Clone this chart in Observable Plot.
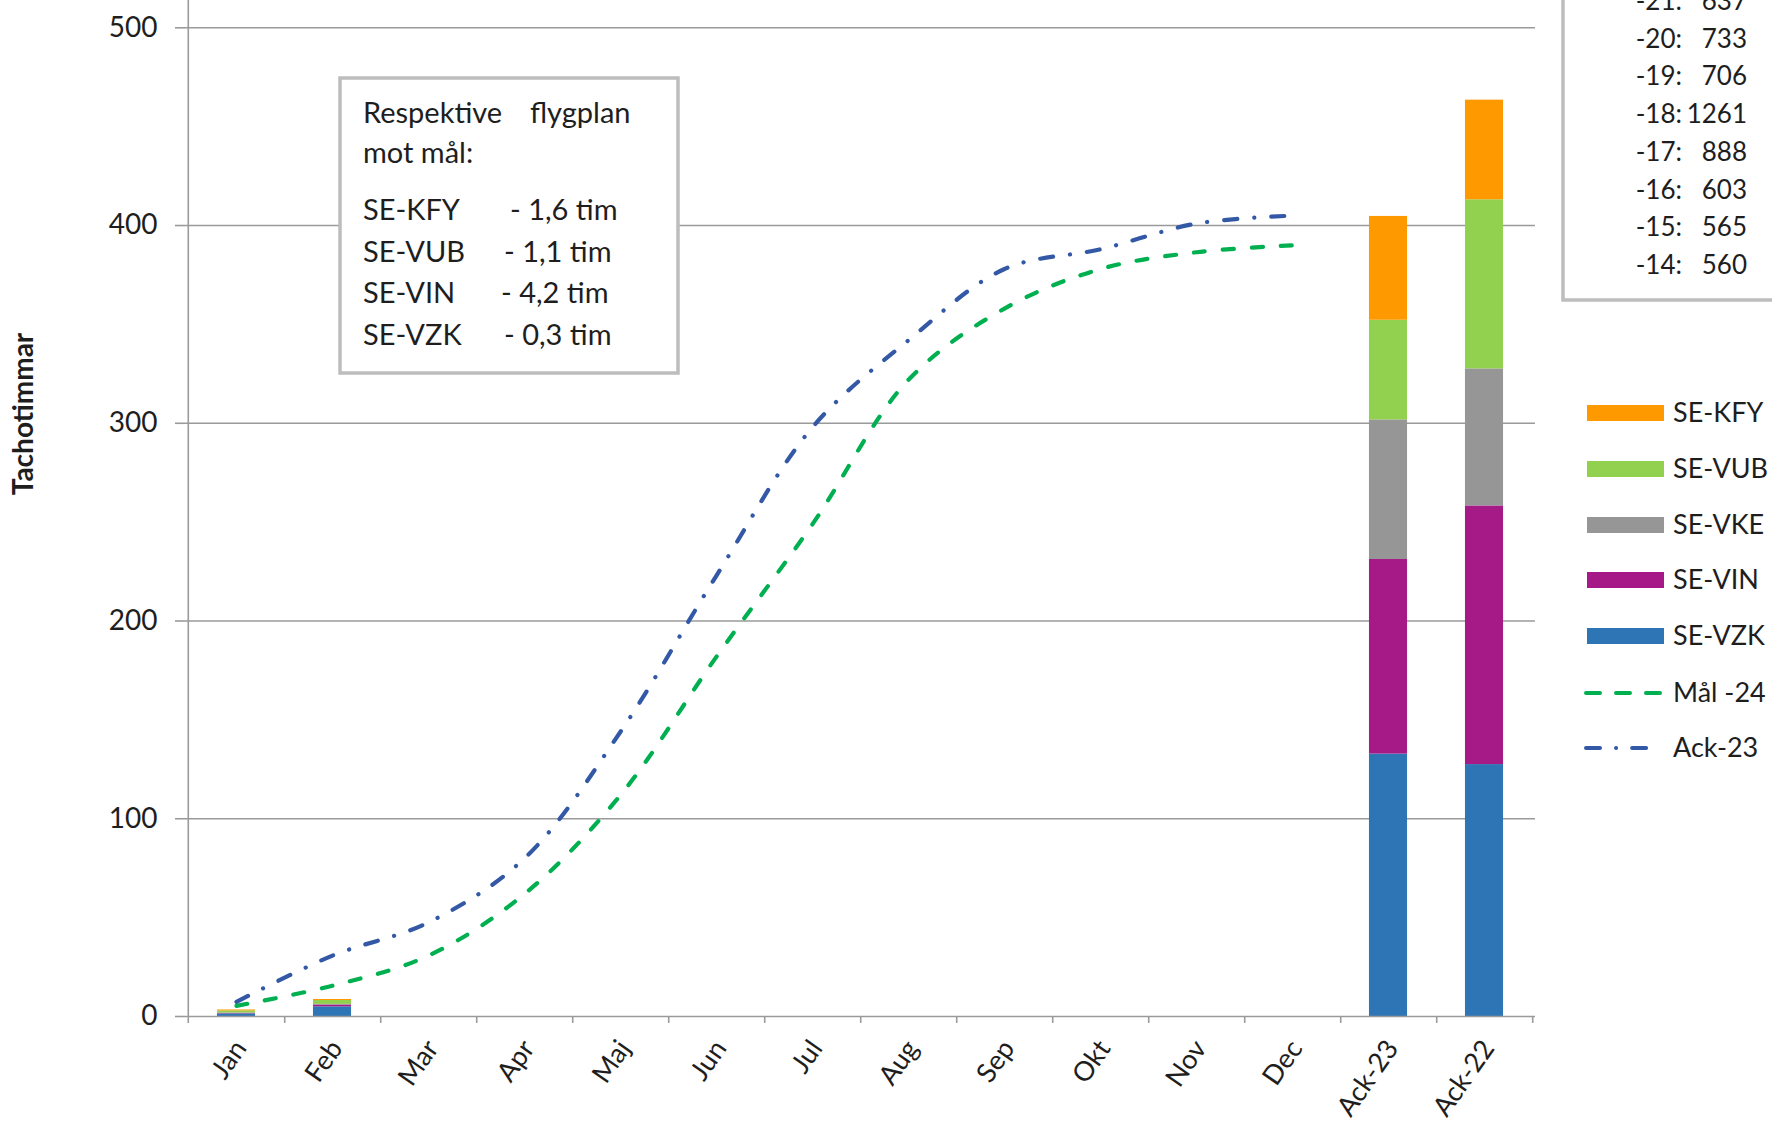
<!DOCTYPE html>
<html>
<head>
<meta charset="utf-8">
<script src="https://cdn.jsdelivr.net/npm/d3@7"></script>
<script src="https://cdn.jsdelivr.net/npm/@observablehq/plot@0.6"></script>
<style>
  html, body { margin: 0; padding: 0; background: #fff; }
  #chart svg { display: block; }
</style>
</head>
<body>
<div id="chart"></div>
<script>
// ---- data ----
const categories = ["Jan","Feb","Mar","Apr","Maj","Jun","Jul","Aug","Sep","Okt","Nov","Dec","Ack-23","Ack-22"];
const months = ["Jan","Feb","Mar","Apr","Maj","Jun","Jul","Aug","Sep","Okt","Nov","Dec"];
const barCategories = ["Jan","Feb","Ack-23","Ack-22"];
const seriesNames = ["SE-VZK","SE-VIN","SE-VKE","SE-VUB","SE-KFY"];
const seriesColors = ["#2E75B6","#A51A87","#969696","#92D050","#FF9900"];
const seVZK = [1.3, 4.9, 132.7, 127.4];
const seVIN = [0.2, 0.9, 98.4, 130.8];
const seVKE = [0.3, 0.3, 70.6, 69.3];
const seVUB = [1.0, 2.0, 50.4, 85.5];
const seKFY = [0.5, 0.5, 52.5, 50.4];
const ack23 = [7.4, 30.8, 47.6, 80, 144, 223, 298, 342, 378, 388, 401, 405];
const mal24 = [5.4, 15.6, 30.8, 62, 112, 182, 249, 322, 358, 378, 386.5, 390];
const yTicks = [0, 100, 200, 300, 400, 500];
const noteTitle = ["Respektive", "flygplan", "mot mål:"];
const noteNames = ["SE-KFY","SE-VUB","SE-VIN","SE-VZK"];
const noteValues = ["- 1,6 tim","- 1,1 tim","- 4,2 tim","- 0,3 tim"];
const histYears = ["-21:","-20:","-19:","-18:","-17:","-16:","-15:","-14:"];
const histHours = ["637","733","706","1261","888","603","565","560"];
const legendBars = ["SE-KFY","SE-VUB","SE-VKE","SE-VIN","SE-VZK"];
const legendBarColors = ["#FF9900","#92D050","#969696","#A51A87","#2E75B6"];

// ---- build tables ----
const seriesValues = [seVZK, seVIN, seVKE, seVUB, seKFY];
const barRows = [];
seriesNames.forEach((s, si) => barCategories.forEach((c, ci) => barRows.push({cat: c, series: s, value: seriesValues[si][ci]})));
const ackRows = months.map((m, i) => ({month: m, value: ack23[i]}));
const malRows = months.map((m, i) => ({month: m, value: mal24[i]}));

const W = 1772, H = 1124, ML = 185, MR = 237, MT = 0, MB = 108;
const bw = (W - ML - MR) / categories.length;
const barW = 38.5;
const inset = (bw - barW) / 2;
const axisColor = "#9a9a9a";
const font = "Lato, 'Open Sans', sans-serif";

const svg = Plot.plot({
  width: W, height: H,
  marginLeft: ML, marginRight: MR, marginTop: MT, marginBottom: MB,
  style: {fontFamily: font, fontSize: "28px", color: "#1e1e1e", background: "#fff"},
  x: {type: "band", domain: categories, padding: 0},
  y: {domain: [0, 513.8]},
  color: {domain: seriesNames, range: seriesColors},
  marks: [
    Plot.gridY([100, 200, 300, 400, 500], {stroke: axisColor, strokeOpacity: 1, strokeWidth: 1.6}),
    Plot.axisY({ticks: yTicks, tickSize: 10, tickPadding: 18, stroke: axisColor, strokeWidth: 1.6, fill: "#1e1e1e", label: null, tickFormat: d => String(d)}),
    Plot.axisX({tickSize: 0, tickRotate: -55, tickPadding: 27, dx: 4, fontSize: 27, fill: "#1e1e1e", label: null}),
    Plot.barY(barRows, Plot.stackY({x: "cat", y: "value", fill: "series", order: seriesNames, insetLeft: inset, insetRight: inset})),
    Plot.ruleY([0], {stroke: axisColor, strokeWidth: 1.6}),
    Plot.ruleX(["Jan"], {dx: -bw / 2, y1: -3.5, y2: 513.8, stroke: axisColor, strokeWidth: 1.6}),
    Plot.ruleX(categories, {dx: bw / 2, y1: -3.5, y2: 0, stroke: axisColor, strokeWidth: 1.6}),
    Plot.line(malRows, {x: "month", y: "value", stroke: "#00B050", strokeWidth: 4.2, curve: "catmull-rom", strokeDasharray: "11,18", strokeLinecap: "round"}),
    Plot.line(ackRows, {x: "month", y: "value", stroke: "#3358A6", strokeWidth: 4.2, curve: "catmull-rom", strokeDasharray: "13,17,0.1,17", strokeLinecap: "round"})
  ]
});

const s = d3.select(svg);

// y-axis title
s.append("text")
  .attr("transform", "translate(33,414) rotate(-90)")
  .attr("text-anchor", "middle")
  .attr("font-family", font).attr("font-weight", "bold").attr("font-size", 28)
  .attr("fill", "#1e1e1e")
  .text("Tachotimmar");

// note box
const g1 = s.append("g").attr("font-family", font).attr("font-size", 29).attr("fill", "#1e1e1e").attr("text-anchor", "start");
g1.append("rect").attr("x", 340).attr("y", 78).attr("width", 338).attr("height", 295)
  .attr("fill", "#fff").attr("stroke", "#bdbdbd").attr("stroke-width", 3.5);
g1.append("text").attr("x", 363).attr("y", 123).text(noteTitle[0]);
g1.append("text").attr("x", 530).attr("y", 123).text(noteTitle[1]);
g1.append("text").attr("x", 363).attr("y", 163).text(noteTitle[2]);
const noteY = [220, 262, 303, 345];
const noteVX = [510, 504, 501, 504];
noteNames.forEach((n, i) => {
  g1.append("text").attr("x", 363).attr("y", noteY[i]).text(n);
  g1.append("text").attr("x", noteVX[i]).attr("y", noteY[i]).text(noteValues[i]);
});

// history box (top right, cropped by the top edge like the reference)
const g2 = s.append("g").attr("font-family", font).attr("font-size", 26).attr("fill", "#1e1e1e");
g2.append("rect").attr("x", 1563).attr("y", -30).attr("width", 260).attr("height", 330)
  .attr("fill", "#fff").attr("stroke", "#bdbdbd").attr("stroke-width", 3.5);
histYears.forEach((yr, i) => {
  const yy = 10 + i * 37.7;
  g2.append("text").attr("x", 1682).attr("y", yy).attr("text-anchor", "end").text(yr);
  g2.append("text").attr("x", 1747).attr("y", yy).attr("text-anchor", "end").text(histHours[i]);
});

// legend
const g3 = s.append("g").attr("font-family", font).attr("font-size", 27).attr("fill", "#1e1e1e").attr("text-anchor", "start");
const legY = [413, 469, 525, 580, 636, 693, 748];
legendBars.forEach((n, i) => {
  g3.append("rect").attr("x", 1587).attr("y", legY[i] - 8).attr("width", 77).attr("height", 16).attr("fill", legendBarColors[i]);
  g3.append("text").attr("x", 1673).attr("y", legY[i]).attr("dy", "0.35em").text(n);
});
g3.append("line").attr("x1", 1586).attr("x2", 1664).attr("y1", legY[5]).attr("y2", legY[5])
  .attr("stroke", "#00B050").attr("stroke-width", 4).attr("stroke-dasharray", "14,16").attr("stroke-linecap", "round");
g3.append("text").attr("x", 1673).attr("y", legY[5]).attr("dy", "0.35em").text("Mål -24");
g3.append("line").attr("x1", 1586).attr("x2", 1650).attr("y1", legY[6]).attr("y2", legY[6])
  .attr("stroke", "#3358A6").attr("stroke-width", 4).attr("stroke-dasharray", "14,16,0.1,16").attr("stroke-linecap", "round");
g3.append("text").attr("x", 1673).attr("y", legY[6]).attr("dy", "0.35em").text("Ack-23");

document.getElementById("chart").appendChild(svg);
</script>
</body>
</html>
